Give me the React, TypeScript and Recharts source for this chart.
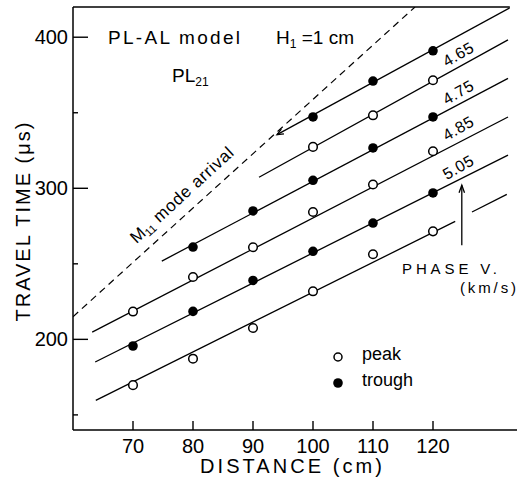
import React from 'react';
import { ComposedChart, Line, Scatter, XAxis, YAxis, ReferenceLine } from 'recharts';

// ---- data ----
const xTicks = [70, 80, 90, 100, 110, 120];
const yTicks = [150, 200, 250, 300, 350, 400];
const yTickLabels = ['', '200', '', '300', '', '400'];

const peakX = [70, 70, 80, 80, 90, 90, 100, 100, 100, 110, 110, 110, 120, 120, 120];
const peakY = [218.4, 169.7, 241.3, 187.2, 261, 207.5, 327.4, 284.3, 231.8, 348.3, 302.5, 256.3, 371.5, 324.5, 271.5];
const troughX = [70, 80, 80, 90, 90, 100, 100, 100, 110, 110, 110, 120, 120, 120];
const troughY = [195.6, 261.1, 218.5, 285, 239, 347.2, 305.3, 258.3, 371, 326.7, 277, 391, 347.2, 296.9];

// phase lines (start / end), last one is the continuation of the lowest line past the arrow
const lineStartX = [94.0, 91.0, 74.8, 63.2, 63.7, 63.8, 126.5];
const lineStartY = [335.5, 307.3, 251.8, 204.8, 185.0, 159.6, 284.3];
const lineEndX = [132.8, 132.5, 132.5, 132.5, 132.5, 123.7, 132.3];
const lineEndY = [419.5, 398.2, 372.8, 347.2, 321.9, 278.1, 296.0];

const arrivalX = [60, 117];
const arrivalY = [215, 420];
const arrowX = [124.8, 124.8];
const arrowY = [262.3, 302];

const velocityLabels = ['4.65', '4.75', '4.85', '5.05'];

const X_DOMAIN = [60, 134];
const Y_DOMAIN = [140, 420];

// ---- built from the arrays ----
const peaks = peakX.map((x, i) => ({ x, y: peakY[i] }));
const troughs = troughX.map((x, i) => ({ x, y: troughY[i] }));
const segments = lineStartX.map((x, i) => [
  { x, y: lineStartY[i] },
  { x: lineEndX[i], y: lineEndY[i] },
]);
const arrival = arrivalX.map((x, i) => ({ x, y: arrivalY[i] }));
const arrow = arrowX.map((x, i) => ({ x, y: arrowY[i] }));

const FONT = '"Liberation Sans", Arial, sans-serif';

const arrowHead = (tipIndex: number, fromIndex: number, len = 9, spread = 0.42) => (props: any) => {
  const { cx, cy, index, points } = props;
  if (index !== tipIndex || !points || points.length < 2) return <g key={`d-${index}`} />;
  const t = points[tipIndex];
  const f = points[fromIndex];
  const dx = t.x - f.x;
  const dy = t.y - f.y;
  const L = Math.hypot(dx, dy) || 1;
  const ux = dx / L;
  const uy = dy / L;
  const rot = (a: number) => ({
    x: -(ux * Math.cos(a) - uy * Math.sin(a)) * len,
    y: -(ux * Math.sin(a) + uy * Math.cos(a)) * len,
  });
  const a1 = rot(spread);
  const a2 = rot(-spread);
  return (
    <path
      key={`d-${index}`}
      d={`M${cx + a1.x},${cy + a1.y} L${cx},${cy} L${cx + a2.x},${cy + a2.y}`}
      fill="none"
      stroke="#000"
      strokeWidth={1.3}
    />
  );
};

const YTick = (props: any) => {
  const { x, y, payload } = props;
  const i = yTicks.indexOf(payload.value);
  const label = i >= 0 ? yTickLabels[i] : '';
  const major = label !== '';
  return (
    <g>
      <line x1={x} y1={y} x2={x + (major ? 15 : 5)} y2={y} stroke="#000" strokeWidth={1.4} />
      {major && (
        <text x={x - 5} y={y + 7} textAnchor="end" fontSize={20} fontFamily={FONT} fill="#000">
          {label}
        </text>
      )}
    </g>
  );
};

const XTick = (props: any) => {
  const { x, y, payload } = props;
  return (
    <g>
      <line x1={x} y1={y} x2={x} y2={y - 9} stroke="#000" strokeWidth={1.4} />
      <text x={x} y={y + 23} textAnchor="middle" fontSize={20} fontFamily={FONT} fill="#000">
        {payload.value}
      </text>
    </g>
  );
};

const openCircle = (p: any) => (
  <circle cx={p.cx} cy={p.cy} r={4.3} fill="#fff" stroke="#000" strokeWidth={1.5} />
);
const filledCircle = (p: any) => <circle cx={p.cx} cy={p.cy} r={4.8} fill="#000" stroke="none" />;

export default function App() {
  const W = 517;
  const H = 481;
  return (
    <div style={{ position: 'absolute', left: 0, top: 0, width: W, height: H, background: '#fff' }}>
      <ComposedChart
        width={W}
        height={H}
        margin={{ top: 7, right: 0, bottom: 21, left: 0 }}
      >
        <XAxis
          dataKey="x"
          type="number"
          domain={X_DOMAIN}
          ticks={xTicks}
          allowDataOverflow
          height={30}
          tickSize={0}
          tickMargin={0}
          tickLine={false}
          axisLine={{ stroke: '#000', strokeWidth: 1.5 }}
          tick={<XTick />}
        />
        <YAxis
          dataKey="y"
          type="number"
          domain={Y_DOMAIN}
          ticks={yTicks}
          allowDataOverflow
          width={73}
          tickSize={0}
          tickMargin={0}
          tickLine={false}
          axisLine={{ stroke: '#000', strokeWidth: 1.5 }}
          tick={<YTick />}
        />
        <ReferenceLine
          segment={[{ x: X_DOMAIN[0], y: Y_DOMAIN[1] }, { x: 132.8, y: Y_DOMAIN[1] }]}
          stroke="#000"
          strokeWidth={1.4}
        />
        <Line
          data={arrival}
          dataKey="y"
          stroke="#000"
          strokeWidth={1.2}
          strokeDasharray="7 5"
          dot={false}
          isAnimationActive={false}
        />
        {segments.map((seg, i) => (
          <Line
            key={i}
            data={seg}
            dataKey="y"
            stroke="#000"
            strokeWidth={1.3}
            dot={i === 0 ? arrowHead(0, 1, 7, 0.4) : false}
            activeDot={false}
            isAnimationActive={false}
          />
        ))}
        <Line
          data={arrow}
          dataKey="y"
          stroke="#000"
          strokeWidth={1.3}
          dot={arrowHead(1, 0, 8, 0.35)}
          activeDot={false}
          isAnimationActive={false}
        />
        <Scatter data={peaks} shape={openCircle} isAnimationActive={false} />
        <Scatter data={troughs} shape={filledCircle} isAnimationActive={false} />
      </ComposedChart>

      <svg
        width={W}
        height={H}
        style={{ position: 'absolute', left: 0, top: 0, pointerEvents: 'none' }}
        fontFamily={FONT}
        fill="#000"
      >
        <text x={108} y={44} fontSize={19} textLength={132} lengthAdjust="spacing">
          PL-AL model
        </text>
        <text x={276} y={44} fontSize={19}>
          H
          <tspan fontSize={12} dy={4}>1</tspan>
          <tspan dy={-4}> =1 cm</tspan>
        </text>
        <text x={172} y={82} fontSize={19}>
          PL
          <tspan fontSize={12} dy={4}>21</tspan>
        </text>
        <text transform="translate(186,199) rotate(-42.5)" textAnchor="middle" fontSize={17}>
          M
          <tspan fontSize={11} dy={3}>11</tspan>
          <tspan dy={-3} letterSpacing={0.8}> mode arrival</tspan>
        </text>
        {velocityLabels.map((v, i) => (
          <text
            key={v}
            transform={`translate(${461},${[54, 92, 128, 167][i] + 5}) rotate(-30)`}
            textAnchor="middle"
            fontSize={16}
            letterSpacing={0.5}
          >
            {v}
          </text>
        ))}
        <text x={402} y={274} fontSize={15} textLength={95} lengthAdjust="spacing">
          PHASE V.
        </text>
        <text x={460} y={293} fontSize={15} textLength={56} lengthAdjust="spacing">
          (km/s)
        </text>
        <circle cx={338} cy={357} r={4} fill="#fff" stroke="#000" strokeWidth={1.5} />
        <text x={362} y={360} fontSize={18}>peak</text>
        <circle cx={338} cy={383} r={4.8} fill="#000" />
        <text x={362} y={386} fontSize={18}>trough</text>
        <text
          transform="translate(30,222) rotate(-90)"
          textAnchor="middle"
          fontSize={20}
          textLength={199}
          lengthAdjust="spacing"
        >
          TRAVEL TIME (μs)
        </text>
        <text x={200} y={473} fontSize={20} textLength={182} lengthAdjust="spacing">
          DISTANCE (cm)
        </text>
      </svg>
    </div>
  );
}
